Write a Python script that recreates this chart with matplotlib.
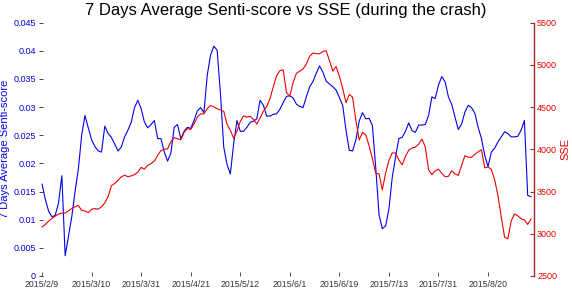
import numpy as np
import matplotlib
matplotlib.use('Agg')
import matplotlib.pyplot as plt

plt.rcParams['font.family'] = ['Liberation Sans', 'DejaVu Sans']

# 7 days average senti-score (left axis)
senti = [0.0163, 0.0136, 0.0115, 0.0105, 0.0108, 0.0130, 0.0178, 0.0036, 0.0070, 0.0105,
         0.0150, 0.0190, 0.0250, 0.0285, 0.0263, 0.0242, 0.0230, 0.0222, 0.0220, 0.0266,
         0.0253, 0.0246, 0.0234, 0.0222, 0.0229, 0.0247, 0.0259, 0.0273, 0.0299, 0.0312,
         0.0297, 0.0273, 0.0263, 0.0269, 0.0276, 0.0244, 0.0244, 0.0220, 0.0204, 0.0218,
         0.0264, 0.0269, 0.0244, 0.0257, 0.0264, 0.0262, 0.0276, 0.0293, 0.0299, 0.0290,
         0.0356, 0.0392, 0.0408, 0.0401, 0.0324, 0.0229, 0.0198, 0.0181, 0.0235, 0.0276,
         0.0257, 0.0257, 0.0264, 0.0273, 0.0275, 0.0279, 0.0312, 0.0303, 0.0284, 0.0284,
         0.0287, 0.0288, 0.0296, 0.0308, 0.0319, 0.0320, 0.0316, 0.0305, 0.0301, 0.0299,
         0.0318, 0.0336, 0.0345, 0.0360, 0.0373, 0.0362, 0.0346, 0.0341, 0.0336, 0.0330,
         0.0317, 0.0303, 0.0259, 0.0223, 0.0222, 0.0242, 0.0275, 0.0290, 0.0279, 0.0280,
         0.0267, 0.0193, 0.0109, 0.0084, 0.0089, 0.0119, 0.0175, 0.0211, 0.0244, 0.0246,
         0.0257, 0.0272, 0.0258, 0.0255, 0.0268, 0.0268, 0.0269, 0.0285, 0.0318, 0.0315,
         0.0339, 0.0354, 0.0345, 0.0318, 0.0305, 0.0282, 0.0260, 0.0270, 0.0291, 0.0303,
         0.0299, 0.0289, 0.0264, 0.0244, 0.0214, 0.0194, 0.0220, 0.0227, 0.0238, 0.0247,
         0.0256, 0.0253, 0.0247, 0.0247, 0.0248, 0.0259, 0.0276, 0.0143, 0.0141]

# SSE index (right axis)
sse = [3081, 3110, 3150, 3180, 3210, 3232, 3245, 3245, 3270, 3300,
       3320, 3335, 3275, 3270, 3250, 3290, 3298, 3290, 3320, 3365,
       3440, 3570, 3595, 3634, 3673, 3693, 3675, 3685, 3700, 3730,
       3785, 3765, 3810, 3830, 3860, 3930, 3985, 4000, 4005, 4090,
       4138, 4125, 4110, 4200, 4245, 4235, 4300, 4380, 4418, 4420,
       4480, 4518, 4502, 4480, 4466, 4450, 4295, 4225, 4130, 4215,
       4330, 4395, 4380, 4390, 4355, 4298, 4370, 4450, 4505, 4600,
       4740, 4870, 4930, 4940, 4670, 4629, 4790, 4900, 4925, 4950,
       5010, 5100, 5140, 5132, 5130, 5160, 5165, 5050, 4925, 4980,
       4865, 4720, 4550, 4650, 4615, 4340, 4110, 4200, 4170, 4040,
       3890, 3715, 3710, 3520, 3720, 3870, 3958, 3955, 3875, 3815,
       3915, 3990, 4015, 4025, 4060, 4120, 4029, 3755, 3700, 3745,
       3765, 3715, 3675, 3680, 3745, 3710, 3690, 3810, 3925, 3905,
       3905, 3940, 3970, 3995, 3780, 3790, 3760, 3640, 3450, 3200,
       2960, 2940, 3150, 3235, 3212, 3177, 3165, 3110, 3175]

date_labels = ['2015/2/9', '2015/3/10', '2015/3/31', '2015/4/21', '2015/5/12',
               '2015/6/1', '2015/6/19', '2015/7/13', '2015/7/31', '2015/8/20']
label_step = 15

x = np.arange(len(senti))

fig = plt.figure(figsize=(5.72, 2.88), dpi=100)
ax = fig.add_axes([0.0677, 0.0417, 0.8664, 0.88])
ax2 = ax.twinx()

ax.plot(x, senti, color='#0000ee', lw=0.8)
ax2.plot(x, sse, color='#ee0000', lw=0.8)

ax.set_xlim(-1, len(senti))
ax.set_ylim(0, 0.045)
ax2.set_ylim(2500, 5500)

ax.set_yticks(np.arange(0, 0.0451, 0.005))
ax.set_yticklabels(['0', '0.005', '0.01', '0.015', '0.02', '0.025', '0.03', '0.035', '0.04', '0.045'])
ax2.set_yticks(np.arange(2500, 5501, 500))
ax.set_xticks(np.arange(len(date_labels)) * label_step)
ax.set_xticklabels(date_labels)

for s in ['top', 'left', 'bottom', 'right']:
    ax.spines[s].set_visible(False)
for s in ['top', 'left', 'bottom']:
    ax2.spines[s].set_visible(False)
ax2.spines['right'].set_color('#a0282a')
ax2.spines['right'].set_linewidth(1.0)

ax.tick_params(axis='y', direction='in', length=3.2, width=0.6, color='#1a1a6e',
               labelcolor='#0000dd', labelsize=6.5, pad=2)
ax.tick_params(axis='x', direction='in', length=3.2, width=0.6, color='#333333',
               labelcolor='#333333', labelsize=6.3, pad=2.6)
ax2.tick_params(axis='y', direction='in', length=3.2, width=0.8, color='#a0282a',
                labelcolor='#ee0000', labelsize=6.5, pad=2)

ax.set_ylabel('7 Days Average Senti-score', color='#0000ee', fontsize=8)
ax.yaxis.set_label_coords(-0.057, 0.5)
ax2.set_ylabel('SSE', color='#ee0000', fontsize=8)
ax2.yaxis.set_label_coords(1.053, 0.5)

fig.text(0.5, 1 - 15 / 288, '7 Days Average Senti-score vs SSE (during the crash)',
         ha='center', va='baseline', fontsize=12, color='black')

fig.savefig('out.png', dpi=100)
